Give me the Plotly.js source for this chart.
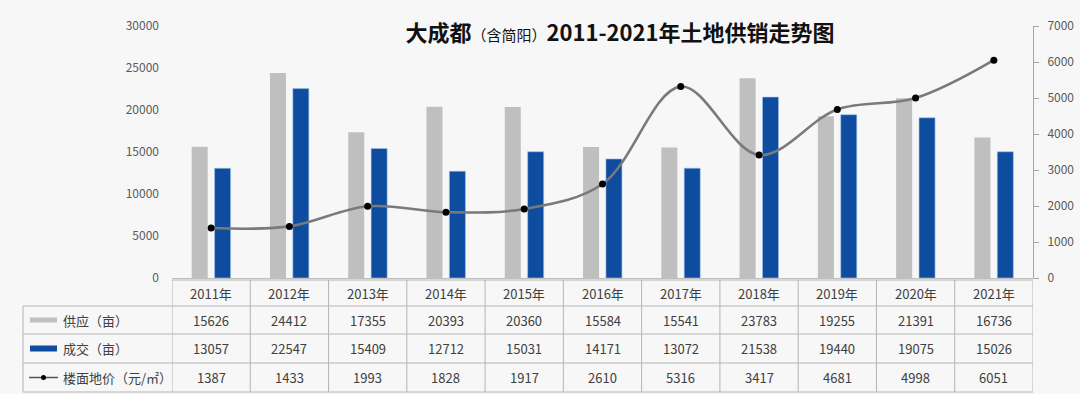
<!DOCTYPE html>
<html>
<head>
<meta charset="utf-8">
<script src="https://cdn.plot.ly/plotly-3.0.1.min.js"></script>
<style>
html,body{margin:0;padding:0;background:#f7f7f7;}
#chart{width:1080px;height:394px;}
</style>
</head>
<body>
<div id="chart"></div>
<script>
const years = ['2011年','2012年','2013年','2014年','2015年','2016年','2017年','2018年','2019年','2020年','2021年'];
const supply = [15626, 24412, 17355, 20393, 20360, 15584, 15541, 23783, 19255, 21391, 16736];
const deal = [13057, 22547, 15409, 12712, 15031, 14171, 13072, 21538, 19440, 19075, 15026];
const price = [1387, 1433, 1993, 1828, 1917, 2610, 5316, 3417, 4681, 4998, 6051];
const rowLabels = ['供应（亩）', '成交（亩）', '楼面地价（元/㎡）'];

const W = 1080, H = 394;
const L = 172, R = 1033, T = 26, B = 278;
const px = x => (x - L) / (R - L);
const py = y => (B - y) / (B - T);
const FONT = '"Noto Sans CJK SC", "Noto Sans", sans-serif';
const TXT = '#404040';
const GRAY = '#bfbfbf';
const BLUE = '#0d4c9e';
const LINEC = '#b4b4b4';

const traces = [
  {type:'bar', x: years, y: supply, name: rowLabels[0], marker:{color: GRAY}, yaxis:'y', hoverinfo:'y'},
  {type:'bar', x: years, y: deal, name: rowLabels[1], marker:{color: BLUE, line:{color:'#9fc3ea', width:0.6}}, yaxis:'y', hoverinfo:'y'},
  {type:'scatter', mode:'lines+markers', x: years, y: price, name: rowLabels[2], yaxis:'y2',
   line:{color:'#7a7a7a', width:2.6, shape:'spline', smoothing:1},
   marker:{color:'#000000', size:7}}
];

const shapes = [];
const annotations = [];
const rowY = [280, 306, 334, 363, 392];
shapes.push({type:'line', xref:'x', yref:'paper', x0:-0.5, x1:10.5, y0:py(rowY[0]), y1:py(rowY[0]), line:{color:LINEC, width:1}});
for (let i = 1; i < rowY.length; i++) {
  shapes.push({type:'line', xref:'paper', yref:'paper', x0:px(23), x1:1, y0:py(rowY[i]), y1:py(rowY[i]), line:{color:LINEC, width:1}});
}
for (let i = 0; i <= years.length; i++) {
  shapes.push({type:'line', xref:'x', yref:'paper', x0:i-0.5, x1:i-0.5, y0:py(rowY[0]), y1:py(rowY[4]), line:{color:LINEC, width:1}});
}
shapes.push({type:'line', xref:'paper', yref:'paper', x0:px(23), x1:px(23), y0:py(rowY[1]), y1:py(rowY[4]), line:{color:LINEC, width:1}});

const centers = [293, 320, 348.5, 377.5];
shapes.push({type:'rect', xref:'paper', yref:'paper', x0:px(30), x1:px(57), y0:py(centers[1]-2.5), y1:py(centers[1]+2.5), fillcolor:GRAY, line:{width:0}});
shapes.push({type:'rect', xref:'paper', yref:'paper', x0:px(30), x1:px(57), y0:py(centers[2]-3), y1:py(centers[2]+3), fillcolor:BLUE, line:{width:0}});
shapes.push({type:'line', xref:'paper', yref:'paper', x0:px(29), x1:px(58), y0:py(centers[3]), y1:py(centers[3]), line:{color:'#555555', width:1.5}});
shapes.push({type:'circle', xref:'paper', yref:'paper', x0:px(41), x1:px(46), y0:py(centers[3]+2.5), y1:py(centers[3]-2.5), fillcolor:'#000', line:{width:0}});

years.forEach((yr, i) => {
  annotations.push({xref:'x', yref:'paper', x:i, y:py(centers[0]), text:yr, showarrow:false, font:{family:FONT, size:13, color:TXT}, xanchor:'center', yanchor:'middle'});
});
const rows = [supply, deal, price];
rows.forEach((arr, r) => {
  annotations.push({xref:'paper', yref:'paper', x:px(61), y:py(centers[r+1]), text:rowLabels[r], showarrow:false, font:{family:FONT, size:13, color:TXT}, xanchor:'left', yanchor:'middle'});
  arr.forEach((v, i) => {
    annotations.push({xref:'x', yref:'paper', x:i, y:py(centers[r+1]), text:String(v), showarrow:false, font:{family:FONT, size:13, color:TXT}, xanchor:'center', yanchor:'middle'});
  });
});

const layout = {
  width: W, height: H,
  margin: {l: L, r: W - R, t: T, b: H - B, pad: 0},
  paper_bgcolor: '#f7f7f7',
  plot_bgcolor: 'rgba(0,0,0,0)',
  showlegend: false,
  barmode: 'group',
  bargap: 0.415,
  bargroupgap: 0.3,
  title: {
    text: '<b>大成都</b><span style="font-size:15px">（含简阳）</span><b>2011-2021年土地供销走势图</b>',
    x: 620 / W, xanchor: 'center', xref: 'container',
    y: 1 - 33 / H, yanchor: 'middle', yref: 'container',
    font: {family: FONT, size: 22, color: '#111111'}
  },
  xaxis: {
    type: 'category', range: [-0.5, 10.5], showticklabels: false, ticks: '',
    showline: true, linecolor: '#bfbfbf', linewidth: 1, showgrid: false, zeroline: false, fixedrange: true
  },
  yaxis: {
    range: [0, 30000], dtick: 5000, tickformat: 'd', showgrid: false, zeroline: false, showline: false, ticks: '',
    ticklabelstandoff: 12, tickfont: {family: FONT, size: 12, color: '#595959'}, fixedrange: true
  },
  yaxis2: {
    overlaying: 'y', side: 'right', range: [0, 7000], dtick: 1000, tickformat: 'd', showgrid: false, zeroline: false,
    showline: true, linecolor: '#a6a6a6', linewidth: 1, ticks: 'outside', ticklen: 5, tickcolor: '#a6a6a6',
    ticklabelstandoff: 6, tickfont: {family: FONT, size: 12, color: '#595959'}, fixedrange: true
  },
  shapes: shapes,
  annotations: annotations,
  font: {family: FONT}
};

Plotly.newPlot('chart', traces, layout, {displayModeBar: false, staticPlot: true});
</script>
</body>
</html>
